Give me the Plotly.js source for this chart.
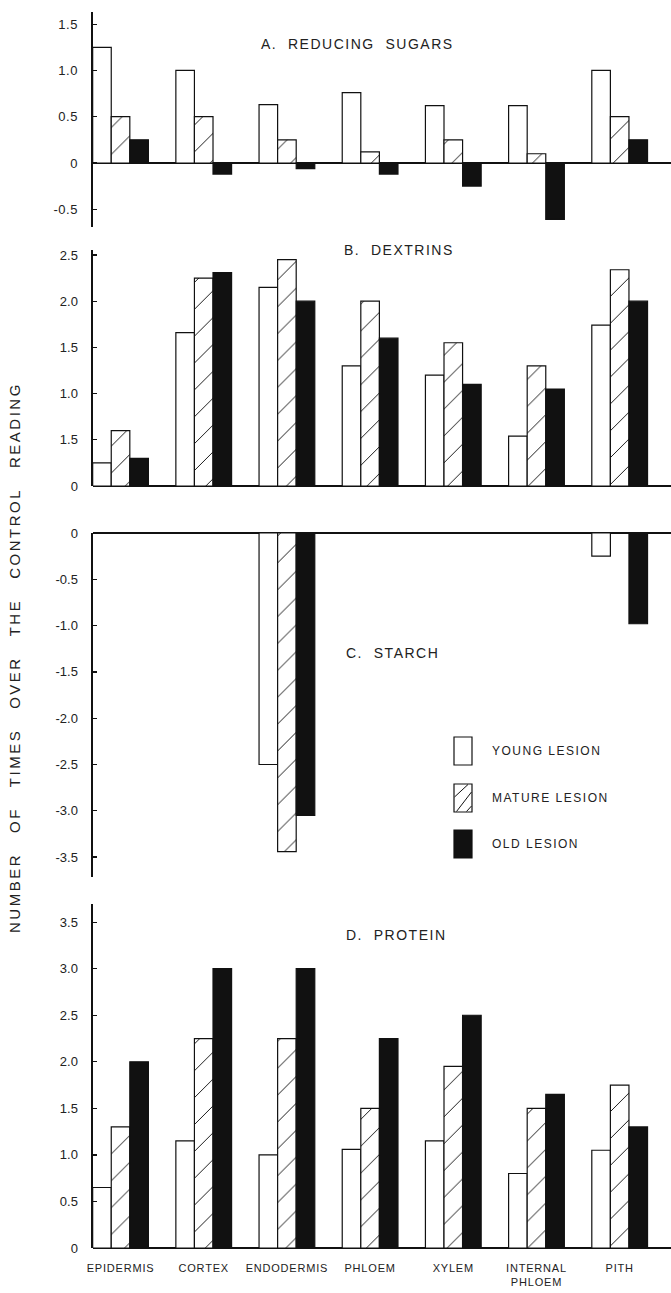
<!DOCTYPE html>
<html>
<head>
<meta charset="utf-8">
<script src="https://cdn.plot.ly/plotly-3.0.1.min.js"></script>
<style>
html,body{margin:0;padding:0;background:#fff;}
#chart{width:671px;height:1293px;}
.ytick text{letter-spacing:0.5px;}
.xtick text{letter-spacing:0.8px;}
</style>
</head>
<body>
<div id="chart"></div>
<script>
// ---- data ----
const categories = ['EPIDERMIS','CORTEX','ENDODERMIS','PHLOEM','XYLEM','INTERNAL<br>PHLOEM','PITH'];
const seriesNames = ['YOUNG LESION','MATURE LESION','OLD LESION'];

const sugarsYoung  = [1.25, 1.00, 0.63, 0.76, 0.62, 0.62, 1.00];
const sugarsMature = [0.50, 0.50, 0.25, 0.12, 0.25, 0.10, 0.50];
const sugarsOld    = [0.25, -0.12, -0.06, -0.12, -0.25, -0.61, 0.25];

const dextrinsYoung  = [0.25, 1.66, 2.15, 1.30, 1.20, 0.54, 1.74];
const dextrinsMature = [0.60, 2.25, 2.45, 2.00, 1.55, 1.30, 2.34];
const dextrinsOld    = [0.30, 2.31, 2.00, 1.60, 1.10, 1.05, 2.00];

const starchYoung  = [null, null, -2.50, null, null, null, -0.25];
const starchMature = [null, null, -3.44, null, null, null, null];
const starchOld    = [null, null, -3.05, null, null, null, -0.98];

const proteinYoung  = [0.65, 1.15, 1.00, 1.06, 1.15, 0.80, 1.05];
const proteinMature = [1.30, 2.25, 2.25, 1.50, 1.95, 1.50, 1.75];
const proteinOld    = [2.00, 3.00, 3.00, 2.25, 2.50, 1.65, 1.30];

const sugarsTickVals = [-0.5, 0, 0.5, 1.0, 1.5];
const sugarsTickText = ['-0.5', '0', '0.5', '1.0', '1.5'];
const dextrinsTickVals = [0, 0.5, 1.0, 1.5, 2.0, 2.5];
const dextrinsTickText = ['0', '1.5', '1.0', '1.5', '2.0', '2.5'];
const starchTickVals = [0, -0.5, -1.0, -1.5, -2.0, -2.5, -3.0, -3.5];
const starchTickText = ['0', '-0.5', '-1.0', '-1.5', '-2.0', '-2.5', '-3.0', '-3.5'];
const proteinTickVals = [0, 0.5, 1.0, 1.5, 2.0, 2.5, 3.0, 3.5];
const proteinTickText = ['0', '0.5', '1.0', '1.5', '2.0', '2.5', '3.0', '3.5'];

const panelTitles = ['A.&nbsp; REDUCING&nbsp; SUGARS', 'B.&nbsp; DEXTRINS', 'C.&nbsp; STARCH', 'D.&nbsp; PROTEIN'];
const yTitleWords = ['NUMBER','OF','TIMES','OVER','THE','CONTROL','READING'];

// ---- helpers ----
const W = 671, H = 1293;
const px = x => x / W;
const py = y => 1 - y / H;
const FONT = 'Liberation Sans, Arial, sans-serif';

const styles = [
  {color: '#ffffff'},
  {color: '#ffffff', pattern: {shape: '/', fgcolor: '#111', bgcolor: '#ffffff', size: 19, solidity: 0.05, fillmode: 'replace'}},
  {color: '#111111'}
];

function mk(vals, idx, yax) {
  const m = {color: styles[idx].color, line: {color: '#111', width: 1.2}};
  if (styles[idx].pattern) m.pattern = styles[idx].pattern;
  return {type: 'bar', x: categories, y: vals, name: seriesNames[idx], yaxis: yax,
          xaxis: 'x', marker: m, showlegend: false, hoverinfo: 'skip', cliponaxis: false};
}

const traces = [
  mk(sugarsYoung, 0, 'y'), mk(sugarsMature, 1, 'y'), mk(sugarsOld, 2, 'y'),
  mk(dextrinsYoung, 0, 'y2'), mk(dextrinsMature, 1, 'y2'), mk(dextrinsOld, 2, 'y2'),
  mk(starchYoung, 0, 'y3'), mk(starchMature, 1, 'y3'), mk(starchOld, 2, 'y3'),
  mk(proteinYoung, 0, 'y4'), mk(proteinMature, 1, 'y4'), mk(proteinOld, 2, 'y4')
];

function yax(top, bottom, range, vals, text) {
  return {
    domain: [py(bottom), py(top)], range: range, anchor: 'x',
    showline: true, linecolor: '#111', linewidth: 2,
    ticks: 'inside', ticklen: 4, tickwidth: 1.2, tickcolor: '#111',
    tickmode: 'array', tickvals: vals, ticktext: text,
    tickfont: {family: FONT, size: 13, color: '#222'},
    ticklabelstandoff: 10,
    showgrid: false, zeroline: true, zerolinecolor: '#111', zerolinewidth: 2,
    fixedrange: true
  };
}

const yTitle = yTitleWords.join('&nbsp;&nbsp;&nbsp;');

const annotations = [
  {text: '<span style="letter-spacing:1.5px">' + panelTitles[0] + '</span>', x: px(259), y: py(44)},
  {text: '<span style="letter-spacing:1.5px">' + panelTitles[1] + '</span>', x: px(342), y: py(250)},
  {text: '<span style="letter-spacing:1.5px">' + panelTitles[2] + '</span>', x: px(344), y: py(653)},
  {text: '<span style="letter-spacing:1.5px">' + panelTitles[3] + '</span>', x: px(344), y: py(935)},
  {text: '<span style="letter-spacing:1.5px">' + seriesNames[0] + '</span>', x: px(490), y: py(751), font: {family: FONT, size: 12, color: '#222'}},
  {text: '<span style="letter-spacing:1.5px">' + seriesNames[1] + '</span>', x: px(490), y: py(798), font: {family: FONT, size: 12, color: '#222'}},
  {text: '<span style="letter-spacing:1.5px">' + seriesNames[2] + '</span>', x: px(490), y: py(844), font: {family: FONT, size: 12, color: '#222'}}
].map(a => Object.assign({xref: 'paper', yref: 'paper', xanchor: 'left', yanchor: 'middle', showarrow: false,
                          font: {family: FONT, size: 14, color: '#222'}}, a));

annotations.push({
  text: '<span style="letter-spacing:2.5px">' + yTitle + '</span>',
  xref: 'paper', yref: 'paper', x: px(14), y: py(658), xanchor: 'center', yanchor: 'middle',
  textangle: -90, showarrow: false, font: {family: FONT, size: 15, color: '#222'}
});

function rectPx(x0, y0, x1, y1, fill) {
  return {type: 'rect', xref: 'paper', yref: 'paper', x0: px(x0), x1: px(x1), y0: py(y1), y1: py(y0),
          fillcolor: fill, line: {color: '#111', width: 1.2}};
}
function linePx(x0, y0, x1, y1) {
  return {type: 'line', xref: 'paper', yref: 'paper', x0: px(x0), x1: px(x1), y0: py(y0), y1: py(y1),
          line: {color: '#111', width: 1}};
}
const shapes = [
  rectPx(454, 737, 472, 765, '#ffffff'),
  rectPx(454, 784, 472, 812, '#ffffff'),
  linePx(454.5, 797, 468, 784.5),
  linePx(456.5, 811.5, 471.5, 792),
  linePx(466.5, 811.5, 471.5, 806),
  rectPx(454, 830, 472, 858, '#111111')
];

const layout = {
  width: W, height: H,
  margin: {l: 0, r: 0, t: 0, b: 0},
  paper_bgcolor: '#ffffff', plot_bgcolor: 'rgba(0,0,0,0)',
  barmode: 'group', bargap: 0.33, bargroupgap: 0,
  showlegend: false,
  xaxis: {
    domain: [px(92.5), 1], anchor: 'y4', type: 'category',
    range: [-0.337, 6.617], showline: false, ticks: '', showgrid: false, zeroline: false,
    tickfont: {family: FONT, size: 11, color: '#222'}, ticklabelstandoff: 12, fixedrange: true
  },
  yaxis: yax(12, 227, [-0.692, 1.632], sugarsTickVals, sugarsTickText),
  yaxis2: yax(250, 486, [0, 2.554], dextrinsTickVals, dextrinsTickText),
  yaxis3: yax(533, 877, [-3.715, 0], starchTickVals, starchTickText),
  yaxis4: yax(904, 1248, [0, 3.695], proteinTickVals, proteinTickText),
  annotations: annotations,
  shapes: shapes
};

Plotly.newPlot('chart', traces, layout, {staticPlot: true, displayModeBar: false});
</script>
</body>
</html>
